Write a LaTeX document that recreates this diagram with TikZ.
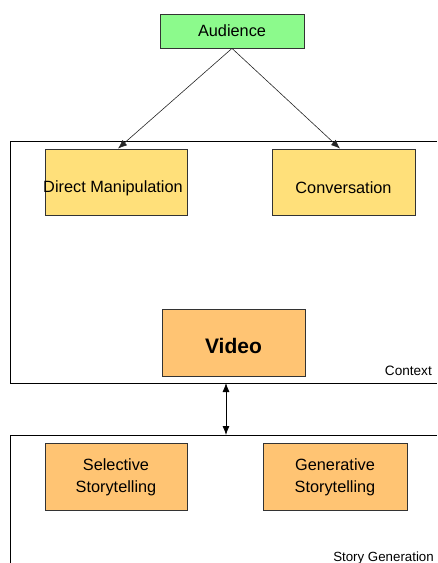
\documentclass[tikz,border=0pt]{standalone}
\usepackage{fontspec}
\setmainfont{Liberation Sans}
\usetikzlibrary{arrows.meta}
\definecolor{audgreen}{RGB}{140,250,140}
\definecolor{modeyellow}{RGB}{255,224,122}
\definecolor{storyorange}{RGB}{255,196,115}
\tikzset{
  box/.style={draw=black!80, line width=0.8pt, inner sep=0pt},
  boxtext/.style={inner sep=0pt, align=center, font=\fontsize{16.3}{22.5}\selectfont},
  frame/.style={draw=black, line width=0.9pt},
  framelabel/.style={font=\fontsize{13.6}{15}\selectfont, anchor=base east, inner sep=0pt},
  link/.style={draw=black!85, line width=0.6pt, -{Latex[length=9pt,width=7pt]}},
  twolink/.style={draw=black, line width=0.8pt, {Latex[length=9pt,width=7pt]}-{Latex[length=9pt,width=7pt]}}
}
\begin{document}
\begin{tikzpicture}[x=1pt,y=-1pt]
\useasboundingbox (0,0) rectangle (437,563);

% frames (open on the right edge)
\draw[frame] (437,141) -- (10,141) -- (10,383) -- (437,383);
\draw[frame] (437,435) -- (10,435) -- (10,563);
\node[framelabel] (ctxlabel) at (432,375) {Context};
\node[framelabel, font=\fontsize{13.3}{15}\selectfont] (genlabel) at (434,561) {Story Generation};
\coordinate (ctxbottom) at (226,383);
\coordinate (gentop) at (226,435);

% audience
\node[box, fill=audgreen, minimum width=144pt, minimum height=34pt] (aud) at (232,31) {};
\node[boxtext] (audtext) at (aud.center) {Audience};

% interaction modes
\node[box, fill=modeyellow, minimum width=142pt, minimum height=66pt] (dm) at (116,182) {};
\node[boxtext] (dmtext) at ([xshift=-3pt,yshift=-6pt]dm.center) {Direct Manipulation};
\node[box, fill=modeyellow, minimum width=143pt, minimum height=66pt] (conv) at (343.5,182) {};
\node[boxtext] (convtext) at ([yshift=-6pt]conv.center) {Conversation};

% video
\node[box, fill=storyorange, minimum width=143pt, minimum height=67pt] (video) at (233.5,342.5) {};
\node[boxtext, font=\fontsize{21}{24}\bfseries] (videotext) at ([yshift=-3pt]video.center) {Video};

% story generation methods
\node[box, fill=storyorange, minimum width=142pt, minimum height=67pt] (sel) at (116,476.5) {};
\node[boxtext] (seltext) at ([yshift=-1pt]sel.center) {Selective\\Storytelling};
\node[box, fill=storyorange, minimum width=144pt, minimum height=67pt] (gen) at (335,476.5) {};
\node[boxtext] (gentext) at ([yshift=-1pt]gen.center) {Generative\\Storytelling};

% connectors
\draw[link] (aud.south) -- ([xshift=2pt]dm.north);
\draw[link] (aud.south) -- ([xshift=-3.5pt]conv.north);
\draw[twolink] (ctxbottom) -- (gentop);
\end{tikzpicture}
\end{document}
